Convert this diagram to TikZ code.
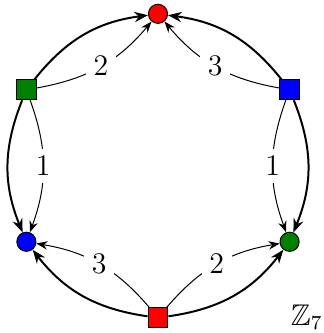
\documentclass[tikz,border=0pt]{standalone}
\usepackage{amssymb}
\usetikzlibrary{arrows.meta,positioning,calc}
\tikzset{
  cnode/.style={circle, draw=black, fill=#1, minimum size=0.27cm, inner sep=0pt},
  snode/.style={rectangle, draw=black, fill=#1, minimum size=0.28cm, inner sep=0pt},
  arrthick/.style={-{Stealth[length=5.5pt]}, thick},
  arrthin/.style={-{Stealth[length=4.5pt]}, thin},
  lbl/.style={fill=white, inner sep=3pt, font=\large}
}

\begin{document}
\begin{tikzpicture}
  \useasboundingbox (-2.23,-2.36) rectangle (2.34,2.34);

  \node[cnode=red] (rc) at (90:2.145) {};
  \node[snode=green!50!black] (gs) at (150:2.145) {};
  \node[snode=blue] (bs) at (30:2.145) {};
  \node[cnode=blue] (bc) at (210:2.145) {};
  \node[cnode=green!50!black] (gc) at (330:2.145) {};
  \node[snode=red] (rs) at (270:2.145) {};

  \node[font=\large] (grp) at (2.1,-2.14) {$\mathbb{Z}_7$};

  \draw[arrthick] (gs) to[bend left=22] (rc);
  \draw[arrthin] (gs) to[bend right=20] node[lbl]{$2$} (rc);
  \draw[arrthick] (bs) to[bend right=22] (rc);
  \draw[arrthin] (bs) to[bend left=20] node[lbl]{$3$} (rc);

  \draw[arrthick] (gs) to[bend right=22] (bc);
  \draw[arrthin] (gs) to[bend left=20] node[lbl]{$1$} (bc);
  \draw[arrthick] (bs) to[bend left=22] (gc);
  \draw[arrthin] (bs) to[bend right=20] node[lbl]{$1$} (gc);

  \draw[arrthick] (rs) to[bend left=22] (bc);
  \draw[arrthin] (rs) to[bend right=20] node[lbl]{$3$} (bc);
  \draw[arrthick] (rs) to[bend right=22] (gc);
  \draw[arrthin] (rs) to[bend left=20] node[lbl]{$2$} (gc);
\end{tikzpicture}
\end{document}
